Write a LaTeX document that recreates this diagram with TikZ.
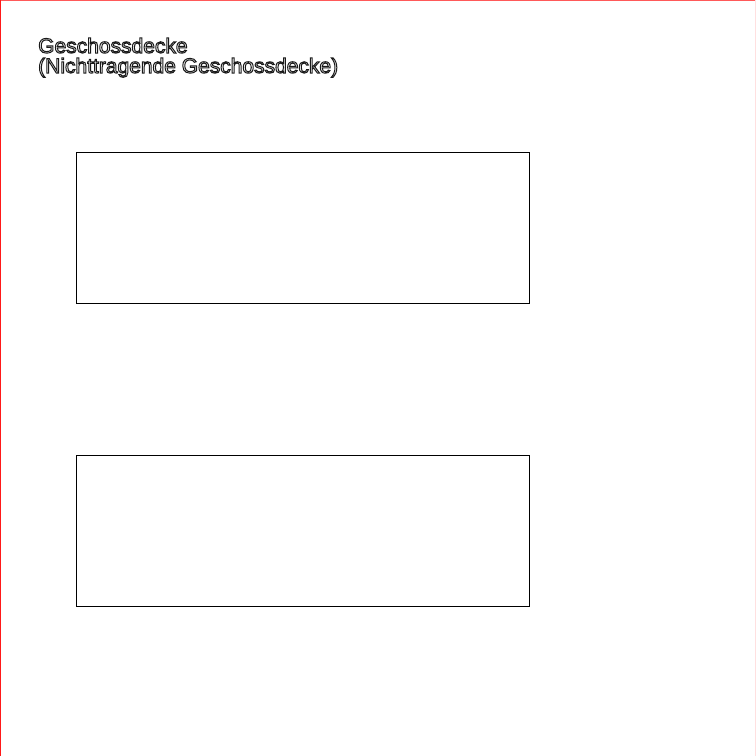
\documentclass[tikz,border=0pt]{standalone}
\usepackage{fontspec}
\setmainfont{Liberation Sans}
\newcommand{\hollow}[1]{\special{pdf:code q 1 Tr 1.0 w 0.1 0.1 0.1 RG}#1\special{pdf:code Q}}
\begin{document}
\begin{tikzpicture}[x=1pt,y=-1pt,
  panel/.style={draw=black, line width=1.3pt},
  edgeline/.style={line width=2.5pt}]
\useasboundingbox (0,0) rectangle (756,756);
\fill[white] (0,0) rectangle (756,756);
\draw[edgeline, red!65] (0,0) -- (756,0);
\draw[edgeline, red!90] (0,0) -- (0,756);
\draw[edgeline, red!12] (756,0) -- (756,756);
\node[anchor=base west, inner sep=0pt, align=left, font=\fontsize{21}{20}\selectfont] (title) at (38,73)
  {\hollow{Geschossdecke}\\
   \hollow{(Nichttragende Geschossdecke)}};
\node[panel, anchor=north west, minimum width=453pt, minimum height=151pt, inner sep=0pt] (upper) at (76,152) {};
\node[panel, anchor=north west, minimum width=453pt, minimum height=151pt, inner sep=0pt] (lower) at (76,455) {};
\end{tikzpicture}
\end{document}
